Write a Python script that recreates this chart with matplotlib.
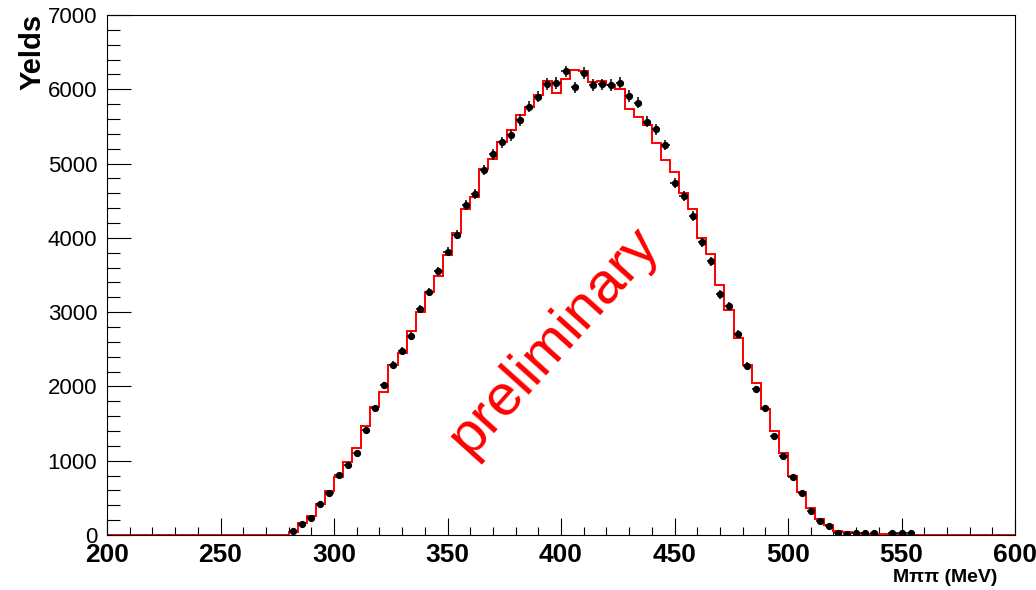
import numpy as np
import matplotlib
matplotlib.use("Agg")
import matplotlib.pyplot as plt
from matplotlib.ticker import MultipleLocator

# ---- data (bin centers in MeV, 4 MeV bins) ----
bin_centers = [282, 286, 290, 294, 298, 302, 306, 310, 314, 318, 322, 326, 330, 334,
               338, 342, 346, 350, 354, 358, 362, 366, 370, 374, 378, 382, 386, 390,
               394, 398, 402, 406, 410, 414, 418, 422, 426, 430, 434, 438, 442, 446,
               450, 454, 458, 462, 466, 470, 474, 478, 482, 486, 490, 494, 498, 502,
               506, 510, 514, 518, 522, 526, 530, 534, 538, 542, 546, 550, 554]
data_yields = [50, 148, 233, 413, 561, 808, 938, 1108, 1413, 1714, 2015, 2288, 2481, 2683,
               3042, 3271, 3554, 3814, 4043, 4438, 4595, 4917, 5124, 5284, 5382, 5586, 5768, 5900,
               6068, 6088, 6240, 6026, 6215, 6057, 6066, 6057, 6090, 5911, 5819, 5563, 5465, 5250,
               4734, 4563, 4294, 3938, 3688, 3240, 3085, 2706, 2279, 1961, 1705, 1337, 1067, 785,
               572, 325, 193, 125, 31, 9, 22, 22, 22, 0, 22, 22, 22]
mc_yields = [45, 157, 260, 422, 597, 781, 987, 1171, 1467, 1718, 1925, 2288, 2454, 2750,
             3002, 3275, 3482, 3769, 4061, 4384, 4554, 4922, 5057, 5290, 5458, 5653, 5766, 5923,
             6105, 5948, 6136, 6261, 6240, 6102, 6115, 6057, 6000, 5737, 5631, 5519, 5281, 5048,
             4891, 4600, 4384, 3994, 3787, 3365, 3029, 2656, 2288, 2042, 1696, 1400, 1100, 794,
             573, 370, 211, 135, 54, 40, 25, 20, 15, 10, 8, 5, 3]
bin_width = 4
x_range = (200, 600)
y_range = (0, 7000)
x_label = "M\u03c0\u03c0 (MeV)"
y_label = "Yelds"
watermark = "preliminary"

plt.rcParams['font.family'] = ['Liberation Sans', 'DejaVu Sans']

fig = plt.figure(figsize=(10.36, 5.90), dpi=100)
ax = fig.add_axes([107/1036, 1-535/590, (1015-107)/1036, (535-15)/590])

# full-range histogram (zeros outside the filled region)
edges = np.arange(x_range[0], x_range[1] + bin_width, bin_width)
mc_full = np.zeros(len(edges) - 1)
for c, v in zip(bin_centers, mc_yields):
    idx = int(round((c - x_range[0] - bin_width / 2) / bin_width))
    mc_full[idx] = v
ax.stairs(mc_full, edges, color='#ff0000', linewidth=1.4, baseline=None, zorder=2)

bc = np.array(bin_centers, dtype=float)
dv = np.array(data_yields, dtype=float)
mask = dv > 0
ax.errorbar(bc[mask], dv[mask], yerr=np.sqrt(dv[mask]), xerr=bin_width / 2 * 0.9,
            fmt='o', color='black', markersize=4.2, elinewidth=1.1, capsize=0, zorder=3)

ax.set_xlim(*x_range)
ax.set_ylim(*y_range)

ax.xaxis.set_major_locator(MultipleLocator(50))
ax.xaxis.set_minor_locator(MultipleLocator(10))
ax.yaxis.set_major_locator(MultipleLocator(1000))
ax.yaxis.set_minor_locator(MultipleLocator(200))
ax.tick_params(axis='x', which='major', direction='in', length=12, width=0.8, pad=6,
               labelsize=19)
ax.tick_params(axis='x', which='minor', direction='in', length=6, width=0.8)
ax.tick_params(axis='y', which='major', direction='in', length=17, width=0.8, pad=7,
               labelsize=16)
ax.tick_params(axis='y', which='minor', direction='in', length=9, width=0.8)
for lab in ax.get_xticklabels():
    lab.set_fontweight('bold')
for sp in ax.spines.values():
    sp.set_linewidth(0.8)

fig.text(33/1036, 1-14/590, y_label, rotation=90, ha='center', va='top',
         fontsize=21, fontweight='bold')
fig.text(997/1036, 1-578/590, x_label, ha='right', va='center',
         fontsize=14, fontweight='bold')

ax.text(397, 2610, watermark, rotation=48, color='#ff0000', fontsize=42,
        ha='center', va='center', rotation_mode='anchor')

fig.savefig("out.png", dpi=100)
